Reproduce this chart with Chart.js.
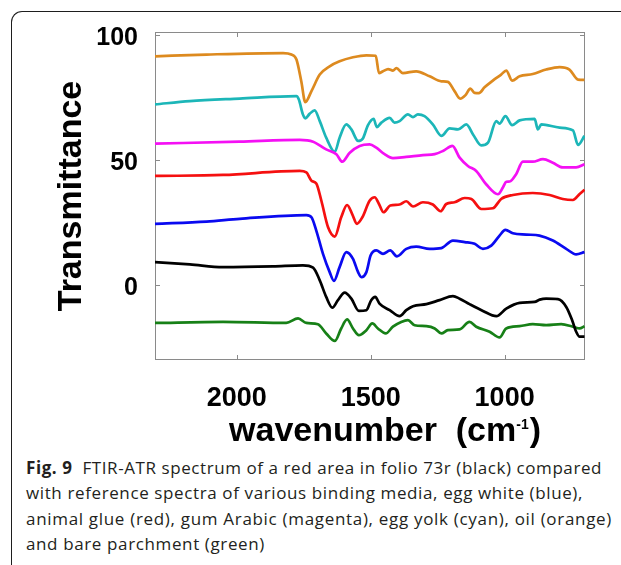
<!DOCTYPE html>
<html>
<head>
<meta charset="utf-8">
<script src="https://cdn.jsdelivr.net/npm/chart.js@4.4.1/dist/chart.umd.min.js"></script>
<style>
  html, body { margin:0; padding:0; background:#fff; overflow:hidden; }
  #wrap { position:relative; width:621px; height:565px; overflow:hidden; background:#fff; }
  #frame { position:absolute; left:11px; top:11px; width:700px; height:700px;
           border-top:1.5px solid #1e1e1e; border-left:1.5px solid #1e1e1e;
           border-top-left-radius:11px; box-sizing:border-box; }
  #c { position:absolute; left:0; top:0; }
  #cap { position:absolute; left:26px; top:455px; font-family:'Open Sans', sans-serif;
         font-size:17px; line-height:25.3px; color:#231f20; }
  #cap .l { white-space:nowrap; width:max-content; }
</style>
</head>
<body>
<div id="wrap">
  <div id="frame"></div>
  <canvas id="c" width="621" height="455"></canvas>
  <div id="cap">
    <div class="l"><b>Fig. 9</b>&nbsp; FTIR-ATR spectrum of a red area in folio 73r (black) compared</div>
    <div class="l">with reference spectra of various binding media, egg white (blue),</div>
    <div class="l">animal glue (red), gum Arabic (magenta), egg yolk (cyan), oil (orange)</div>
    <div class="l">and bare parchment (green)</div>
  </div>
</div>
<script>
// ---- data: [wavenumber (cm-1), transmittance] ----
const xTickValues = [2000, 1500, 1000];
const yTickValues = [0, 50, 100];

const black = [[2305,9.1],[2175,8.2],[2051,7.1],[1865,7.4],[1753,7.8],[1715,6.9],[1690,1.8],[1666,-4.8],[1643,-9.1],[1622,-6.1],[1597,-3.1],[1572,-5.5],[1544,-10.4],[1516,-10.1],[1498,-6.1],[1483,-4.8],[1467,-7.5],[1429,-10.1],[1392,-12.5],[1367,-10.1],[1342,-8.5],[1292,-7.7],[1243,-6.1],[1193,-4.5],[1168,-5.5],[1131,-7.7],[1081,-10.4],[1031,-12.5],[994,-9.5],[944,-7.2],[888,-6.8],[869,-5.9],[845,-5.5],[801,-5.7],[770,-8.8],[748,-14.1],[733,-18.7],[720,-20.7],[702,-20.7]];

const blue = [[2305,24.4],[2113,25.3],[1989,26.4],[1740,27.9],[1721,27.0],[1703,21.7],[1678,12.4],[1653,5.1],[1637,1.6],[1616,7.1],[1591,13.1],[1566,10.4],[1547,5.1],[1535,3.1],[1516,5.1],[1500,11.8],[1479,13.8],[1454,12.4],[1427,13.8],[1402,11.4],[1367,14.4],[1330,15.3],[1280,14.4],[1236,14.7],[1193,17.7],[1149,17.1],[1112,16.4],[1081,14.4],[1050,15.7],[1019,19.7],[997,22.0],[969,20.6],[919,20.1],[870,19.7],[820,17.7],[770,14.4],[733,12.2],[702,13.1]];

const red = [[2305,43.5],[2051,43.9],[1765,45.5],[1740,44.9],[1721,41.6],[1703,40.5],[1684,33.6],[1659,23.0],[1634,19.3],[1610,27.0],[1588,31.9],[1569,28.3],[1551,24.4],[1531,27.0],[1504,33.6],[1485,35.0],[1469,32.3],[1452,29.0],[1427,31.7],[1392,32.1],[1367,33.4],[1342,31.3],[1305,33.0],[1268,32.1],[1239,29.4],[1218,32.3],[1187,33.0],[1149,34.7],[1124,34.3],[1087,30.3],[1044,30.6],[1013,34.3],[969,35.9],[895,36.7],[832,35.9],[783,34.3],[745,33.9],[720,36.3],[702,38.0]];

const magenta = [[2305,56.4],[1989,57.2],[1765,57.9],[1715,57.2],[1666,54.1],[1628,52.2],[1606,49.2],[1578,52.8],[1541,55.5],[1504,56.1],[1479,54.8],[1448,52.2],[1417,50.6],[1367,51.1],[1305,51.8],[1261,52.2],[1230,53.5],[1195,55.5],[1168,50.8],[1137,47.5],[1106,45.5],[1069,40.2],[1025,36.2],[1006,39.0],[994,41.2],[981,41.3],[957,44.2],[932,49.2],[895,49.2],[857,50.2],[820,48.8],[783,46.9],[733,46.9],[702,48.2]];

const cyan = [[2305,72.1],[2175,73.4],[1989,74.4],[1777,75.4],[1768,74.0],[1753,68.1],[1744,66.5],[1728,68.3],[1709,69.7],[1690,65.4],[1666,58.8],[1634,53.1],[1616,58.8],[1591,64.1],[1572,62.1],[1547,57.5],[1529,58.5],[1510,63.8],[1489,66.3],[1477,63.0],[1460,64.8],[1429,66.7],[1411,64.8],[1392,65.4],[1361,68.1],[1342,67.0],[1324,68.1],[1299,67.4],[1268,64.1],[1236,59.5],[1205,62.5],[1174,62.1],[1143,64.1],[1118,60.1],[1087,55.7],[1062,56.8],[1031,65.4],[1019,64.4],[997,67.4],[972,63.8],[944,65.7],[888,66.3],[876,62.1],[863,64.1],[795,62.8],[745,61.7],[726,55.9],[702,59.5]];

const orange = [[2305,91.3],[2113,92.0],[1827,92.6],[1796,92.0],[1777,90.0],[1759,81.3],[1744,73.0],[1721,77.4],[1690,84.0],[1653,87.3],[1616,89.3],[1566,90.9],[1516,91.7],[1481,91.5],[1469,84.6],[1454,85.3],[1435,86.2],[1417,85.6],[1404,86.6],[1380,84.6],[1330,85.3],[1280,83.3],[1236,81.3],[1212,81.1],[1187,77.4],[1166,74.4],[1146,75.8],[1128,78.4],[1112,76.7],[1096,76.6],[1075,78.9],[1044,81.6],[1013,84.0],[994,85.6],[972,81.6],[944,83.3],[895,84.2],[845,86.0],[795,87.0],[758,86.0],[726,82.0],[702,81.9]];

const green = [[2305,-15.2],[2051,-14.8],[1815,-15.2],[1771,-13.4],[1740,-15.2],[1697,-15.7],[1666,-19.4],[1634,-22.4],[1610,-17.4],[1588,-13.8],[1566,-17.4],[1544,-20.1],[1516,-18.1],[1494,-15.4],[1473,-17.4],[1444,-19.4],[1417,-16.7],[1386,-14.8],[1361,-14.1],[1336,-16.1],[1292,-16.5],[1261,-17.4],[1236,-19.4],[1212,-18.1],[1168,-17.8],[1131,-14.8],[1106,-16.7],[1056,-18.7],[1019,-21.0],[994,-17.4],[944,-16.5],[895,-15.7],[845,-16.1],[789,-15.7],[745,-16.7],[720,-17.4],[702,-16.5]];

const seriesList = [
  {name:'folio 73r', data:black,   color:'#000000'},
  {name:'egg white', data:blue,    color:'#0a0af0'},
  {name:'animal glue', data:red,   color:'#f51010'},
  {name:'gum Arabic', data:magenta,color:'#f410f4'},
  {name:'egg yolk', data:cyan,     color:'#1cb6b8'},
  {name:'oil', data:orange,        color:'#dd8a1f'},
  {name:'parchment', data:green,   color:'#178017'}
];

const FONT = "'Liberation Sans', Arial, sans-serif";

const boxPlugin = {
  id: 'boxTicks',
  beforeDatasetsDraw(chart) {
    const {ctx, chartArea: a, scales: {x, y}} = chart;
    ctx.save();
    ctx.strokeStyle = '#8a8a8a';
    ctx.lineWidth = 1;
    ctx.strokeRect(a.left + 0.5, a.top + 0.5, a.width - 1, a.height - 1);
    ctx.beginPath();
    xTickValues.forEach(v => {
      const px = Math.round(x.getPixelForValue(v)) + 0.5;
      ctx.moveTo(px, a.top); ctx.lineTo(px, a.top + 5);
      ctx.moveTo(px, a.bottom); ctx.lineTo(px, a.bottom - 5);
    });
    yTickValues.forEach(v => {
      const py = Math.round(y.getPixelForValue(v)) + 0.5;
      ctx.moveTo(a.left, py); ctx.lineTo(a.left + 5, py);
      ctx.moveTo(a.right, py); ctx.lineTo(a.right - 5, py);
    });
    ctx.stroke();
    ctx.restore();
  },
  afterDraw(chart) {
    const {ctx} = chart;
    ctx.save();
    ctx.fillStyle = '#000';
    const big = "bold 34px " + FONT, small = "bold 14px " + FONT;
    ctx.font = big;
    const w1 = ctx.measureText('wavenumber  (cm').width;
    const w3 = ctx.measureText(')').width;
    ctx.font = small;
    const w2 = ctx.measureText('-1').width + 1;
    const right = 541, base = 441;
    let xs = right - (w1 + w2 + w3);
    ctx.textBaseline = 'alphabetic';
    ctx.textAlign = 'left';
    ctx.font = big; ctx.fillText('wavenumber  (cm', xs, base); xs += w1;
    ctx.font = small; ctx.fillText('-1', xs, base - 12); xs += w2;
    ctx.font = big; ctx.fillText(')', xs, base);
    ctx.restore();
  }
};

new Chart(document.getElementById('c'), {
  type: 'line',
  data: {
    datasets: seriesList.map(s => ({
      label: s.name,
      data: s.data.map(([x, y]) => ({x, y})),
      borderColor: s.color,
      borderWidth: 2.7,
      pointRadius: 0,
      tension: 0.3,
      cubicInterpolationMode: 'monotone',
      fill: false
    }))
  },
  options: {
    responsive: false,
    devicePixelRatio: 1,
    animation: false,
    layout: { padding: { top: 32, right: 36, left: 0, bottom: 0 } },
    plugins: { legend: { display: false }, tooltip: { enabled: false } },
    scales: {
      x: {
        type: 'linear', reverse: true, min: 700, max: 2305,
        afterBuildTicks: s => { s.ticks = xTickValues.map(v => ({value: v})); },
        afterFit: s => { s.height = 95; },
        grid: { display: false }, border: { display: false },
        ticks: { color: '#000', padding: 14, maxRotation: 0, autoSkip: false,
                 font: { family: FONT, size: 27, weight: 'bold' },
                 callback: v => String(v) }
      },
      y: {
        type: 'linear', min: -30, max: 101,
        afterBuildTicks: s => { s.ticks = yTickValues.map(v => ({value: v})); },
        afterFit: s => { s.width = 155; },
        grid: { display: false }, border: { display: false },
        ticks: { color: '#000', padding: 9, labelOffset: 3.5,
                 font: { family: FONT, size: 25, weight: 'bold' },
                 callback: v => String(v) },
        title: { display: true, text: 'Transmittance', color: '#000',
                 font: { family: FONT, size: 34, weight: 'bold' },
                 padding: { top: 51, bottom: 0 } }
      }
    }
  },
  plugins: [boxPlugin]
});

// fit caption lines to the reference widths via letter-spacing
(function () {
  const targets = [576, 557, 586, null];
  const lines = document.querySelectorAll('#cap .l');
  let spacings = [];
  lines.forEach((el, i) => {
    if (targets[i] == null) return;
    const n = el.textContent.length;
    const w = el.getBoundingClientRect().width;
    const ls = (targets[i] - w) / n;
    el.style.letterSpacing = ls + 'px';
    spacings.push(ls);
  });
  const avg = spacings.reduce((a, b) => a + b, 0) / spacings.length;
  lines[3].style.letterSpacing = avg + 'px';
})();
</script>
</body>
</html>
